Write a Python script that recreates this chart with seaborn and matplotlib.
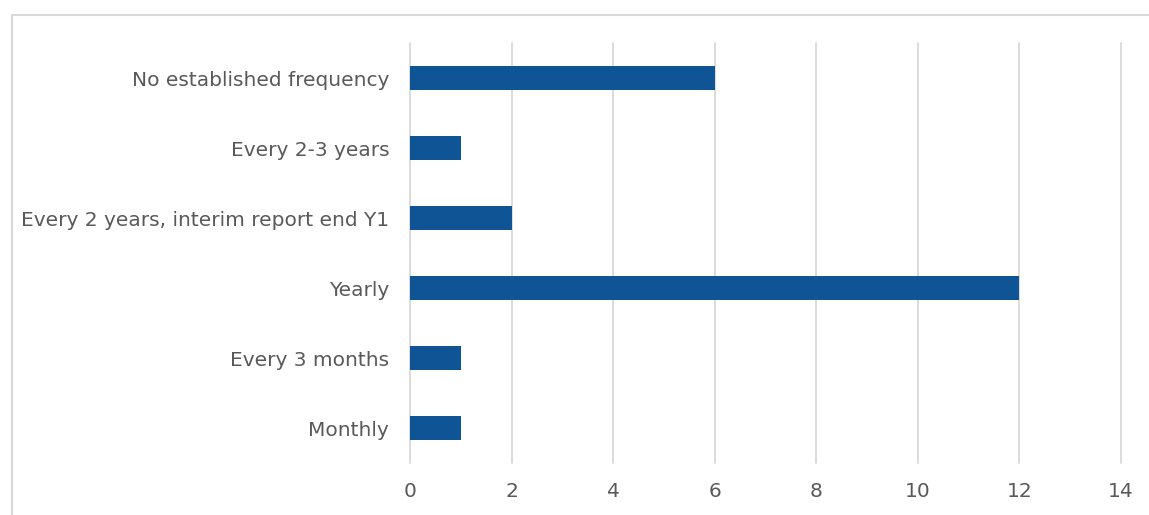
import pandas as pd
import seaborn as sns
import matplotlib.pyplot as plt
from matplotlib.patches import Rectangle

categories = ["No established frequency", "Every 2-3 years",
              "Every 2 years, interim report end Y1", "Yearly",
              "Every 3 months", "Monthly"]
counts = [6, 1, 2, 12, 1, 1]
x_ticks = [0, 2, 4, 6, 8, 10, 12, 14]

df = pd.DataFrame({"frequency": categories, "count": counts})

sns.set_style("white")
plt.rcParams['font.family'] = ['DejaVu Sans']
text_color = "#595959"
grid_color = "#d9d9d9"

fig = plt.figure(figsize=(11.49, 5.15), dpi=100)
ax = fig.add_axes([410 / 1149, 1 - 463 / 515, 711 / 1149, 420 / 515])

sns.barplot(data=df, y="frequency", x="count", order=categories,
            color="#0f5494", saturation=1, width=0.34, linewidth=0, ax=ax)

ax.set_xlim(0, 14)
ax.set_ylim(5.5, -0.5)
ax.set_xticks(x_ticks)
ax.set_axisbelow(True)
ax.xaxis.grid(True, color=grid_color, linewidth=1.3)
for gl in ax.get_xgridlines():
    gl.set_clip_on(False)
for s in ax.spines.values():
    s.set_visible(False)
ax.set_xlabel("")
ax.set_ylabel("")
ax.tick_params(axis="both", length=0, labelsize=14.5, colors=text_color)
ax.tick_params(axis="x", pad=14)
ax.tick_params(axis="y", pad=15)

# chart frame
fig.patches.append(Rectangle((12 / 1149, -0.2), 1.2, 1.2 - 15 / 515,
                             transform=fig.transFigure, fill=False,
                             edgecolor=grid_color, linewidth=1.5))

fig.savefig("out.png", dpi=100)
